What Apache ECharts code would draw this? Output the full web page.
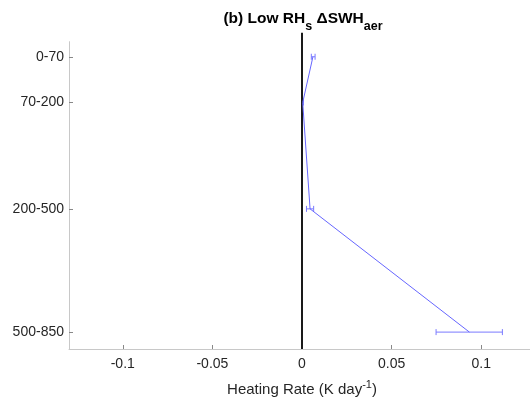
<!DOCTYPE html>
<html><head><meta charset="utf-8">
<script src="https://cdn.jsdelivr.net/npm/echarts@6/dist/echarts.min.js"></script>
<style>html,body{margin:0;padding:0;background:#fff}#c{width:530px;height:400px}</style>
</head><body><div id="c"></div>
<script>
var categories = ['0-70', '70-200', '200-500', '500-850'];
var levelPos = [0.49, 1.98, 5.44, 9.45];
var meanVals = [0.0061, 0.0004, 0.0045, 0.0934];
var lowVals = [0.0052, 0.0001, 0.0025, 0.0748];
var highVals = [0.0073, 0.0008, 0.0065, 0.1118];
var xTicks = [-0.1, -0.05, 0, 0.05, 0.1];
var zeroLineY = [-0.29, 10];

var chart = echarts.init(document.getElementById('c'), null, {renderer: 'canvas'});
var font = 'Liberation Sans, Arial, sans-serif';
var lineData = meanVals.map(function (v, i) { return [v, levelPos[i]]; });
var errData = levelPos.map(function (y, i) { return [lowVals[i], highVals[i], y]; });

chart.setOption({
  animation: false,
  title: {
    text: '{b|(b) Low RH}{sub|s}{b| \u0394SWH}{sub|aer}',
    left: 298, top: 6, textAlign: 'center',
    textStyle: {
      rich: {
        b: {fontFamily: font, fontWeight: 'bold', fontSize: 15.5, color: '#000', padding: [0,0,8,0]},
        sub: {fontFamily: font, fontWeight: 'bold', fontSize: 12.5, color: '#000', padding: [8,0,0,0]}
      }
    }
  },
  grid: {left: 69, top: 41.7, width: 466, height: 307.3, outerBoundsMode: 'none', containLabel: false},
  xAxis: {
    type: 'value', min: -0.13, max: 0.13,
    name: '{n|Heating Rate (K day}{sup|-1}{n|)}',
    nameLocation: 'middle', nameGap: 27,
    nameTextStyle: {
      rich: {
        n: {fontFamily: font, fontSize: 15, color: '#262626', padding: [6,0,0,0]},
        sup: {fontFamily: font, fontSize: 11, color: '#262626', padding: [0,0,4,0]}
      }
    },
    axisLine: {show: true, onZero: false, lineStyle: {color: '#c8c8c8', width: 1}},
    axisTick: {show: true, inside: true, length: 4, customValues: xTicks, lineStyle: {color: '#888'}},
    axisLabel: {customValues: xTicks, fontFamily: font, fontSize: 14, color: '#262626', margin: 8},
    splitLine: {show: false}
  },
  yAxis: {
    type: 'value', inverse: true, min: 0, max: 10,
    axisLine: {show: true, onZero: false, lineStyle: {color: '#c8c8c8', width: 1}},
    axisTick: {show: true, inside: true, length: 4, customValues: levelPos, lineStyle: {color: '#888'}},
    axisLabel: {
      customValues: levelPos, fontFamily: font, fontSize: 14, color: '#262626', margin: 5,
      formatter: function (v) {
        for (var i = 0; i < levelPos.length; i++) if (Math.abs(levelPos[i] - v) < 1e-6) return categories[i];
        return '';
      }
    },
    splitLine: {show: false}
  },
  series: [
    {
      type: 'line', data: zeroLineY.map(function (y) { return [0, y]; }),
      showSymbol: false, clip: false, silent: true,
      lineStyle: {color: '#1a1a1a', width: 2}
    },
    {
      type: 'line', data: lineData, showSymbol: false,
      lineStyle: {color: '#6666ff', width: 1}
    },
    {
      type: 'custom', data: errData,
      renderItem: function (params, api) {
        var a = api.coord([api.value(0), api.value(2)]);
        var b = api.coord([api.value(1), api.value(2)]);
        var c = 3;
        var st = {stroke: '#7a7aff', lineWidth: 1};
        return {type: 'group', children: [
          {type: 'line', shape: {x1: a[0], y1: a[1], x2: b[0], y2: b[1]}, style: st},
          {type: 'line', shape: {x1: a[0], y1: a[1]-c, x2: a[0], y2: a[1]+c}, style: st},
          {type: 'line', shape: {x1: b[0], y1: b[1]-c, x2: b[0], y2: b[1]+c}, style: st}
        ]};
      }
    }
  ]
});
</script></body></html>
